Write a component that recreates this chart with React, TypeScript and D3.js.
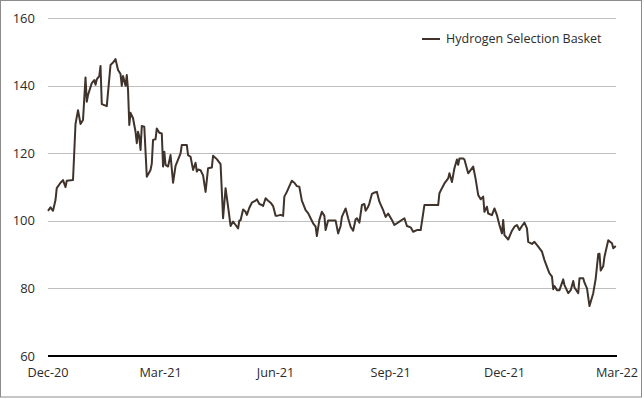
import React, { useEffect, useRef } from "react";
import { select, scaleLinear, scaleTime, line, timeParse, timeFormat } from "d3";

const dates = [
  "2020-12-01", "2020-12-03", "2020-12-05", "2020-12-07", "2020-12-08", "2020-12-11", "2020-12-13", "2020-12-15",
  "2020-12-16", "2020-12-21", "2020-12-23", "2020-12-25", "2020-12-27", "2020-12-29", "2020-12-31", "2021-01-01",
  "2021-01-02", "2021-01-05", "2021-01-07", "2021-01-08", "2021-01-09", "2021-01-11", "2021-01-12", "2021-01-13",
  "2021-01-17", "2021-01-20", "2021-01-22", "2021-01-24", "2021-01-26", "2021-01-28", "2021-01-29", "2021-01-30",
  "2021-02-01", "2021-02-02", "2021-02-03", "2021-02-04", "2021-02-05", "2021-02-07", "2021-02-09", "2021-02-10",
  "2021-02-11", "2021-02-12", "2021-02-13", "2021-02-14", "2021-02-16", "2021-02-18", "2021-02-21", "2021-02-22",
  "2021-02-23", "2021-02-25", "2021-02-26", "2021-02-28", "2021-03-02", "2021-03-03", "2021-03-04", "2021-03-05",
  "2021-03-07", "2021-03-09", "2021-03-11", "2021-03-13", "2021-03-17", "2021-03-18", "2021-03-22", "2021-03-23",
  "2021-03-25", "2021-03-27", "2021-03-29", "2021-03-30", "2021-03-31", "2021-04-02", "2021-04-04", "2021-04-06",
  "2021-04-08", "2021-04-11", "2021-04-12", "2021-04-15", "2021-04-18", "2021-04-20", "2021-04-22", "2021-04-24",
  "2021-04-26", "2021-04-28", "2021-04-30", "2021-05-02", "2021-05-03", "2021-05-04", "2021-05-06", "2021-05-08",
  "2021-05-09", "2021-05-11", "2021-05-13", "2021-05-16", "2021-05-17", "2021-05-19", "2021-05-21", "2021-05-22",
  "2021-05-24", "2021-05-26", "2021-05-28", "2021-05-30", "2021-06-01", "2021-06-02", "2021-06-05", "2021-06-07",
  "2021-06-08", "2021-06-10", "2021-06-13", "2021-06-14", "2021-06-16", "2021-06-18", "2021-06-20", "2021-06-22",
  "2021-06-25", "2021-06-27", "2021-06-29", "2021-07-01", "2021-07-03", "2021-07-04", "2021-07-06", "2021-07-08",
  "2021-07-10", "2021-07-11", "2021-07-13", "2021-07-19", "2021-07-21", "2021-07-23", "2021-07-24", "2021-07-27",
  "2021-07-29", "2021-07-31", "2021-08-02", "2021-08-04", "2021-08-05", "2021-08-07", "2021-08-09", "2021-08-11",
  "2021-08-12", "2021-08-14", "2021-08-15", "2021-08-17", "2021-08-19", "2021-08-21", "2021-08-23", "2021-08-26",
  "2021-08-28", "2021-08-30", "2021-09-02", "2021-09-04", "2021-09-08", "2021-09-12", "2021-09-14", "2021-09-17",
  "2021-09-19", "2021-09-22", "2021-09-25", "2021-09-28", "2021-10-09", "2021-10-10", "2021-10-12", "2021-10-14",
  "2021-10-17", "2021-10-18", "2021-10-20", "2021-10-22", "2021-10-24", "2021-10-25", "2021-10-26", "2021-10-29",
  "2021-10-30", "2021-11-02", "2021-11-06", "2021-11-08", "2021-11-10", "2021-11-12", "2021-11-14", "2021-11-15",
  "2021-11-17", "2021-11-18", "2021-11-21", "2021-11-23", "2021-11-25", "2021-11-27", "2021-11-29", "2021-11-30",
  "2021-12-01", "2021-12-04", "2021-12-07", "2021-12-09", "2021-12-11", "2021-12-13", "2021-12-15", "2021-12-17",
  "2021-12-19", "2021-12-20", "2021-12-23", "2021-12-25", "2021-12-28", "2021-12-31", "2022-01-02", "2022-01-04",
  "2022-01-06", "2022-01-08", "2022-01-09", "2022-01-10", "2022-01-12", "2022-01-14", "2022-01-17", "2022-01-18",
  "2022-01-21", "2022-01-23", "2022-01-25", "2022-01-26", "2022-01-29", "2022-01-30", "2022-02-02", "2022-02-03",
  "2022-02-05", "2022-02-07", "2022-02-10", "2022-02-12", "2022-02-14", "2022-02-15", "2022-02-16", "2022-02-18",
  "2022-02-19", "2022-02-22", "2022-02-25", "2022-02-26", "2022-02-28",
];

const basket = [
  103, 104, 103, 106.2, 109.7, 111.3, 112.1, 110,
  111.9, 112.1, 128.7, 132.8, 128.7, 129.9, 142.5, 135.3,
  137.3, 140.8, 141.7, 140.3, 141.9, 142.9, 145.9, 134.6,
  134, 146.2, 146.9, 147.9, 144.7, 143.5, 140, 142.9,
  140, 143.2, 138.8, 128.4, 132, 130.4, 126.4, 123,
  126.4, 124.9, 121, 128.1, 127.9, 113.1, 115.1, 117,
  124, 124.2, 127.4, 126.1, 125.9, 116.1, 120.5, 116.6,
  116.1, 119.5, 111.3, 116.3, 120, 122.5, 122.5, 119.5,
  119, 115.1, 117.2, 114.6, 115.2, 115, 113.5, 108.6,
  115.6, 115.8, 119.3, 118.3, 116.8, 100.8, 109.7, 104.2,
  98.5, 99.8, 98.8, 97.8, 100.1, 100.2, 103.4, 102.7,
  101.8, 103.9, 105.4, 106, 106.4, 105, 104.7, 104.4,
  106.7, 106, 105.4, 104.4, 101.5, 101.5, 101.8, 101.5,
  107.2, 108.6, 111.1, 111.9, 111.3, 110.3, 110.1, 106,
  103.2, 102.3, 100.8, 99.3, 98.3, 95.5, 100.3, 102.7,
  101.5, 97.3, 100.1, 100.1, 96.3, 98.5, 101.2, 103.7,
  100.8, 98.3, 97.1, 100.5, 100.8, 99.5, 104.7, 105,
  103, 104.2, 105.2, 108, 108.4, 108.6, 105.7, 103.2,
  101.2, 102.2, 100.3, 98.8, 99.8, 100.8, 98.5, 98.1,
  96.8, 97.3, 97.3, 104.7, 104.7, 108.2, 109.7, 111.1,
  112.6, 114.1, 111.5, 115.6, 118.2, 116.6, 118.5, 118.5,
  118.2, 114.1, 116.1, 112.3, 107.7, 106.4, 107.2, 102.7,
  104.2, 102.2, 101.7, 103.7, 101.7, 98.8, 96.3, 100.3,
  95.8, 94.5, 97.1, 98.3, 98.8, 97.3, 98.5, 99.5,
  97.8, 93.8, 93.2, 93.8, 92.4, 90.9, 88.4, 86.4,
  84.5, 83.5, 79.8, 80.7, 79.5, 79.5, 82.7, 81,
  78.6, 79.5, 82.2, 80.3, 78.6, 83, 83, 81.7,
  80, 74.8, 78.6, 83, 90.2, 90.3, 85.3, 86.6,
  89.4, 94.3, 93.4, 91.9, 92.6,
];

const yTicks = [60, 80, 100, 120, 140, 160];
const xTicks = ["2020-12-01", "2021-03-01", "2021-06-01", "2021-09-01", "2021-12-01", "2022-03-01"];
const seriesName = "Hydrogen Selection Basket";

const W = 644;
const H = 399;
const font = "'Segoe UI', 'Open Sans', sans-serif";

const App = () => {
  const chartRef = useRef(null);

  useEffect(() => {
    const svg = select(chartRef.current);
    svg.selectAll("*").remove();

    const parse = timeParse("%Y-%m-%d");
    const fmt = timeFormat("%b-%y");
    const data = dates.map((d, i) => ({ date: parse(d), value: basket[i] }));

    const x = scaleTime()
      .domain([parse(xTicks[0]), parse(xTicks[xTicks.length - 1])])
      .range([48, 617]);
    const y = scaleLinear().domain([60, 160]).range([356, 18.3]);

    // frame
    svg
      .append("rect")
      .attr("x", 0.5)
      .attr("y", 0.5)
      .attr("width", W - 3)
      .attr("height", H - 2.5)
      .attr("fill", "white")
      .attr("stroke", "#8c8c8c");

    // gridlines
    svg
      .append("g")
      .selectAll("line")
      .data(yTicks.filter((t) => t > 60))
      .join("line")
      .attr("x1", 48)
      .attr("x2", 616)
      .attr("y1", (d) => Math.round(y(d)) + 0.5)
      .attr("y2", (d) => Math.round(y(d)) + 0.5)
      .attr("stroke", "#bfbfbf")
      .attr("stroke-width", 1);

    // baseline
    svg
      .append("line")
      .attr("x1", 48)
      .attr("x2", 617)
      .attr("y1", y(60))
      .attr("y2", y(60))
      .attr("stroke", "#000")
      .attr("stroke-width", 2);

    // y labels
    svg
      .append("g")
      .selectAll("text")
      .data(yTicks)
      .join("text")
      .attr("x", 35)
      .attr("y", (d) => y(d))
      .attr("dy", "0.35em")
      .attr("text-anchor", "end")
      .attr("font-family", font)
      .attr("font-size", 13)
      .attr("fill", "#2b2b2b")
      .text((d) => d);

    // x labels
    svg
      .append("g")
      .selectAll("text")
      .data(xTicks)
      .join("text")
      .attr("x", (d) => x(parse(d)))
      .attr("y", 377)
      .attr("text-anchor", "middle")
      .attr("font-family", font)
      .attr("font-size", 12.7)
      .attr("fill", "#2b2b2b")
      .text((d) => fmt(parse(d)));

    const basketLine = line()
      .x((d) => x(d.date))
      .y((d) => y(d.value));

    svg
      .append("path")
      .attr("d", basketLine(data))
      .attr("fill", "none")
      .attr("stroke", "#3f332b")
      .attr("stroke-width", 2)
      .attr("stroke-linejoin", "round");

    // legend
    const lg = svg.append("g").attr("transform", "translate(422,39)");
    lg.append("line")
      .attr("x1", 0)
      .attr("x2", 18)
      .attr("stroke", "#3f332b")
      .attr("stroke-width", 2);
    lg.append("text")
      .attr("x", 24)
      .attr("dy", "0.35em")
      .attr("font-family", font)
      .attr("font-size", 12.5)
      .attr("fill", "#2b2b2b")
      .text(seriesName);
  }, []);

  return (
    <svg
      ref={chartRef}
      width={W}
      height={H}
      style={{ position: "absolute", left: 0, top: 0, background: "white" }}
    ></svg>
  );
};

export default App;
